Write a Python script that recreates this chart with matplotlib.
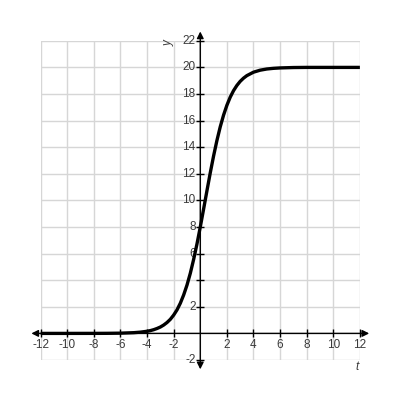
"""Logistic growth curve on a square grid."""

import matplotlib
matplotlib.use("Agg")
import matplotlib.pyplot as plt

# values
t_vals = [-12, -10, -8, -7, -6, -5, -4.5, -4, -3.75, -3.5, -3.25, -3, -2.75,
          -2.5, -2.25, -2, -1.75, -1.5, -1.25, -1, -0.75, -0.5, -0.25, 0,
          0.25, 0.5, 0.75, 1, 1.25, 1.5, 1.75, 2, 2.25, 2.5, 2.75, 3, 3.25,
          3.5, 4, 4.5, 5, 5.5, 6, 7, 8, 10, 12]
y_vals = [0.0, 0.0, 0.002, 0.006, 0.018, 0.054, 0.094, 0.16, 0.21, 0.28,
          0.37, 0.48, 0.63, 0.82, 1.06, 1.38, 1.77, 2.27, 2.89, 3.63, 4.52,
          5.56, 6.72, 8.0, 9.35, 10.72, 12.07, 13.34, 14.5, 15.53, 16.41,
          17.15, 17.76, 18.25, 18.64, 18.95, 19.19, 19.38, 19.64, 19.79,
          19.88, 19.93, 19.96, 19.99, 20.0, 20.0, 20.0]

x_ticks = [-12, -10, -8, -6, -4, -2, 2, 4, 6, 8, 10, 12]
y_ticks = [-2, 2, 4, 6, 8, 10, 12, 14, 16, 18, 20, 22]
y_labels = [-2, 2, 6, 8, 10, 12, 14, 16, 18, 20, 22]  # "4" sits under the curve

plt.rcParams["font.family"] = ["Liberation Sans", "DejaVu Sans"]

fig = plt.figure(figsize=(4, 4), dpi=100)
ax = fig.add_axes([0.1017, 0.1, 0.798, 0.798])
ax.set_xlim(-12, 12)
ax.set_ylim(-2, 22)
ax.axis("off")

# grid
for gx in range(-12, 13, 2):
    ax.plot([gx, gx], [-2, 22], color="#d6d6d6", lw=1, zorder=1)
for gy in range(-2, 23, 2):
    ax.plot([-12, 12], [gy, gy], color="#d6d6d6", lw=1, zorder=1)

# axes with arrows
arrow = dict(arrowstyle="<|-|>", color="black", lw=1, mutation_scale=10,
             shrinkA=0, shrinkB=0)
ax.annotate("", xy=(12.7, 0), xytext=(-12.7, 0), arrowprops=arrow,
            annotation_clip=False, zorder=3)
ax.annotate("", xy=(0, 22.7), xytext=(0, -2.7), arrowprops=arrow,
            annotation_clip=False, zorder=3)

# tick marks
ax.plot(x_ticks, [0] * len(x_ticks), "|", color="black", ms=6, mew=1,
        zorder=3, clip_on=False)
ax.plot([0] * len(y_ticks), y_ticks, "_", color="black", ms=6, mew=1,
        zorder=3, clip_on=False)

# tick labels
for xv in x_ticks:
    ax.text(xv, -0.45, str(xv), ha="center", va="top", fontsize=8.5,
            color="#3a3a3a", zorder=2)
for yv in y_labels:
    ax.text(-0.35, yv, str(yv), ha="right", va="center", fontsize=8.5,
            color="#3a3a3a", zorder=2)

ax.text(-2.4, 21.8, "y", rotation=90, style="italic", fontsize=8.5,
        color="#3a3a3a", ha="center", va="center")
ax.text(11.8, -2.55, "t", style="italic", fontsize=8.5, color="#3a3a3a",
        ha="center", va="center", clip_on=False)

# curve
ax.plot(t_vals, y_vals, color="black", lw=2.4, zorder=4,
        solid_capstyle="butt", clip_on=False)

fig.savefig("out.png", dpi=100)
